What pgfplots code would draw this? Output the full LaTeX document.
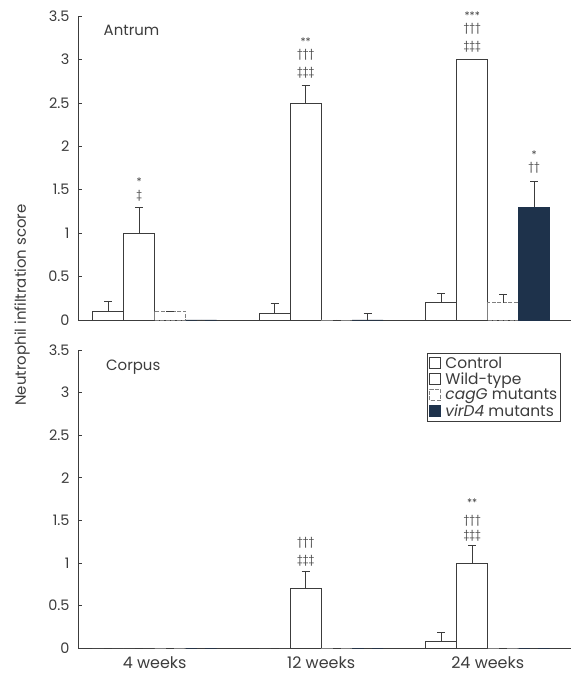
\documentclass[border=0pt]{standalone}
\usepackage{fontspec}
\setmainfont{Poppins}
\usepackage{pgfplots}
\pgfplotsset{compat=1.18}
\definecolor{navy}{RGB}{30,50,75}
\definecolor{ln}{RGB}{60,60,60}

\begin{document}
\begin{tikzpicture}[font=\fontsize{15}{18}\selectfont]
\useasboundingbox (-78bp,-33bp) rectangle (493bp,648bp);
\pgfplotsset{
  panel/.style={
    scale only axis, width=493bp,
    xmin=-0.46, xmax=2.5, ymin=0, ymax=3.5,
    axis lines*=left,
    axis line style={ln, line width=0.7bp},
    every tick/.style={ln, line width=0.7bp},
    tick align=inside,
    major tick length=4bp,
    ytick={0,0.5,1,1.5,2,2.5,3,3.5},
    yticklabels={0,0.5,1,1.5,2,2.5,3,3.5},
    yticklabel style={xshift=-5bp, font=\fontsize{14.5}{17}\selectfont, text=ln},
    xtick={0,1,2},
    x tick style={draw=none},
    extra x ticks={0.5,1.5,2.5},
    extra x tick labels={},
    extra x tick style={major tick length=8bp, tick style={ln, line width=0.7bp, draw=ln}},
    /pgf/number format/assume math mode=true,
    ybar, bar width=0.186,
    clip=false,
  },
  eb/.style={error bars/y dir=plus, error bars/y explicit,
    error bars/error bar style={ln, solid, line width=0.7bp},
    error bars/error mark options={ln, solid, rotate=90, mark size=4bp, line width=0.7bp}},
  ctrl/.style={fill=white, draw=ln, line width=0.7bp, bar shift=-0.279, eb},
  wt/.style={fill=white, draw=ln, line width=0.7bp, bar shift=-0.093, eb},
  cag/.style={fill=white, draw=gray, line width=0.7bp, dash pattern=on 4bp off 1.5bp, bar shift=0.093, eb},
  vir/.style={fill=navy, draw=navy, line width=0.7bp, bar shift=0.279, eb},
  sq/.style={legend image code/.code={\draw[##1, line width=0.7bp] (0bp,-5bp) rectangle (11bp,6bp); \path (14bp,0bp);}},
}
% Top panel: Antrum
\begin{axis}[panel, at={(0,328bp)}, anchor=south west, height=304bp, xticklabels={}]
\addplot[ctrl] coordinates {(0,0.1) +- (0,0.12) (1,0.08) +- (0,0.11) (2,0.2) +- (0,0.11)};
\addplot[wt] coordinates {(0,1.0) +- (0,0.3) (1,2.5) +- (0,0.2) (2,3.0) +- (0,0)};
\addplot[cag] coordinates {(0,0.1) +- (0,0) (1,0) +- (0,0) (2,0.2) +- (0,0.1)};
\addplot[vir] coordinates {(0,0) +- (0,0) (1,0) +- (0,0.08) (2,1.3) +- (0,0.3)};
\node[anchor=north west, text=ln] at (rel axis cs:0.045,0.98) {Antrum};
\begin{scope}[every node/.style={font=\fontsize{10.5}{10.5}\selectfont, inner sep=0pt, text=ln}]
\node at (axis cs:-0.093,1.59) {*};
\node at (axis cs:-0.093,1.43) {‡};
\node at (axis cs:0.907,3.20) {**};
\node at (axis cs:0.907,3.05) {†††};
\node at (axis cs:0.907,2.85) {‡‡‡};
\node at (axis cs:1.907,3.50) {***};
\node at (axis cs:1.907,3.35) {†††};
\node at (axis cs:1.907,3.15) {‡‡‡};
\node at (axis cs:2.279,1.90) {*};
\node at (axis cs:2.279,1.75) {††};
\end{scope}
\end{axis}
% Bottom panel: Corpus
\begin{axis}[panel, at={(0,0)}, anchor=south west, height=298bp,
  xticklabels={4 weeks,12 weeks,24 weeks},
  xticklabel style={yshift=-1bp, font=\fontsize{16}{18}\selectfont, text=ln},
  legend style={at={(0.98,0.99)}, anchor=north east, draw=ln, line width=0.7bp,
    font=\fontsize{15.5}{16}\selectfont, text=ln, inner sep=2bp, row sep=0bp,
    nodes={inner sep=1.5bp}, cells={anchor=west}},
  legend cell align=left]
\addplot[sq, ctrl] coordinates {(0,0) +- (0,0) (1,0) +- (0,0) (2,0.08) +- (0,0.1)};
\addplot[sq, wt] coordinates {(0,0) +- (0,0) (1,0.7) +- (0,0.2) (2,1.0) +- (0,0.2)};
\addplot[sq, cag] coordinates {(0,0) +- (0,0) (1,0) +- (0,0) (2,0) +- (0,0)};
\addplot[sq, vir] coordinates {(0,0) +- (0,0) (1,0) +- (0,0) (2,0) +- (0,0)};
\legend{Control, Wild-type, \textit{cagG} mutants, \textit{virD4} mutants}
\node[anchor=north west, text=ln] at (rel axis cs:0.05,0.98) {Corpus};
\begin{scope}[every node/.style={font=\fontsize{10.5}{10.5}\selectfont, inner sep=0pt, text=ln}]
\node at (axis cs:0.907,1.23) {†††};
\node at (axis cs:0.907,1.03) {‡‡‡};
\node at (axis cs:1.907,1.71) {**};
\node at (axis cs:1.907,1.50) {†††};
\node at (axis cs:1.907,1.32) {‡‡‡};
\end{scope}
\end{axis}
\node[rotate=90, text=ln] at (-56bp,343bp) {Neutrophil infiltration score};
\end{tikzpicture}
\end{document}
